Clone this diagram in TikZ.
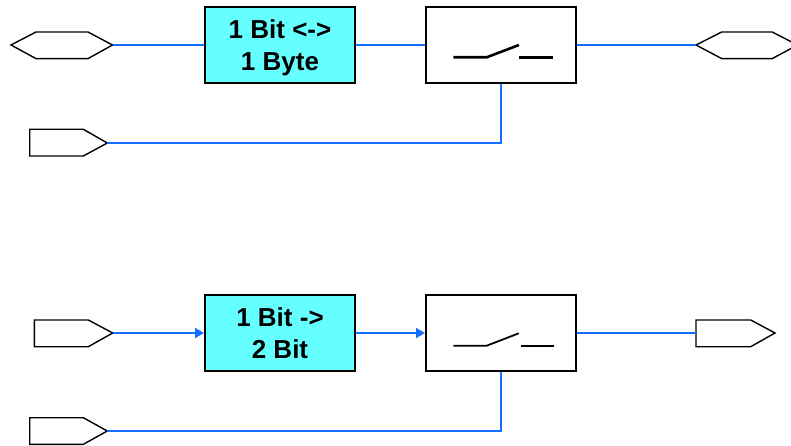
\documentclass[tikz,border=0pt]{standalone}
\usepackage{fontspec}
\setmainfont{Liberation Sans}
\usetikzlibrary{arrows.meta}
\definecolor{wireblue}{RGB}{20,110,255}
\definecolor{boxcyan}{RGB}{102,255,255}
\begin{document}
\begin{tikzpicture}[x=1pt,y=-1pt,
  convbox/.style={draw=black,line width=2pt,fill=boxcyan,minimum width=150pt,minimum height=76pt,inner sep=0pt,align=center,text depth=0pt,font=\fontsize{26}{31.5}\selectfont\bfseries},
  swbox/.style={draw=black,line width=2pt,fill=white,minimum width=150pt,minimum height=76pt,inner sep=0pt},
  port/.style={draw=black,line width=1.4pt,fill=white},
  wire/.style={draw=wireblue,line width=1.8pt},
  thickwire/.style={draw=wireblue,line width=2.4pt},
  arrwire/.style={draw=wireblue,line width=1.8pt,-{Triangle[length=9pt,width=10pt]}},
  swline/.style={draw=black,line width=2.6pt},
  swlinethin/.style={draw=black,line width=1.8pt}]
\useasboundingbox (0,0) rectangle (791,446);
\clip (0,0) rectangle (791,446);
% ---------- top ----------
\node[convbox] (conv1) at (280,45) {1 Bit <->\\1 Byte};
\node[swbox] (sw1) at (501,45) {};
\draw[swline] ([shift={(-47.7,12.3)}]sw1.center) -- ([shift={(-14.3,12.3)}]sw1.center) -- ([shift={(18,0)}]sw1.center);
\draw[swline] ([shift={(18,12.3)}]sw1.center) -- ([shift={(51.7,12.3)}]sw1.center);
% bidirectional ports
\draw[port] (11,45) -- (36,32) -- (88,32) -- (112.5,45) -- (88,58.6) -- (36,58.6) -- cycle;
\coordinate (hin1) at (112.5,45);
\draw[port] (696,45) -- (721.7,32) -- (772.2,32) -- (797.5,45) -- (772.2,58.6) -- (721.7,58.6) -- cycle;
\coordinate (hout1) at (696,45);
% control input
\draw[port] (29.7,129.3) -- (83.3,129.3) -- (107.3,143) -- (83.3,156) -- (29.7,156) -- cycle;
\coordinate (ctl1) at (107.3,143);
\draw[wire] (hin1) -- (conv1.west);
\draw[thickwire] (conv1.east) -- (sw1.west);
\draw[wire] (sw1.east) -- (hout1);
\draw[wire] (ctl1) -| (sw1.south);
% ---------- bottom ----------
\node[convbox] (conv2) at (280,333) {1 Bit ->\\2 Bit};
\node[swbox] (sw2) at (501,333) {};
\draw[swlinethin] ([shift={(-47.7,12.7)}]sw2.center) -- ([shift={(-14.3,12.7)}]sw2.center) -- ([shift={(17.8,0.3)}]sw2.center);
\draw[swlinethin] ([shift={(19.7,12.7)}]sw2.center) -- ([shift={(52.7,12.7)}]sw2.center);
\draw[port] (34.3,320) -- (88.3,320) -- (112.7,333) -- (88.3,346.7) -- (34.3,346.7) -- cycle;
\coordinate (in2) at (112.7,333);
\draw[port] (696,320) -- (750.7,320) -- (775,333) -- (750.7,346.7) -- (696,346.7) -- cycle;
\coordinate (out2) at (696,333);
\draw[port] (29.7,417.7) -- (83.3,417.7) -- (107.3,431) -- (83.3,444.3) -- (29.7,444.3) -- cycle;
\coordinate (ctl2) at (107.3,431);
\draw[arrwire] (in2) -- (conv2.west);
\draw[arrwire] (conv2.east) -- (sw2.west);
\draw[wire] (sw2.east) -- (out2);
\draw[wire] (ctl2) -| (sw2.south);
\end{tikzpicture}
\end{document}
